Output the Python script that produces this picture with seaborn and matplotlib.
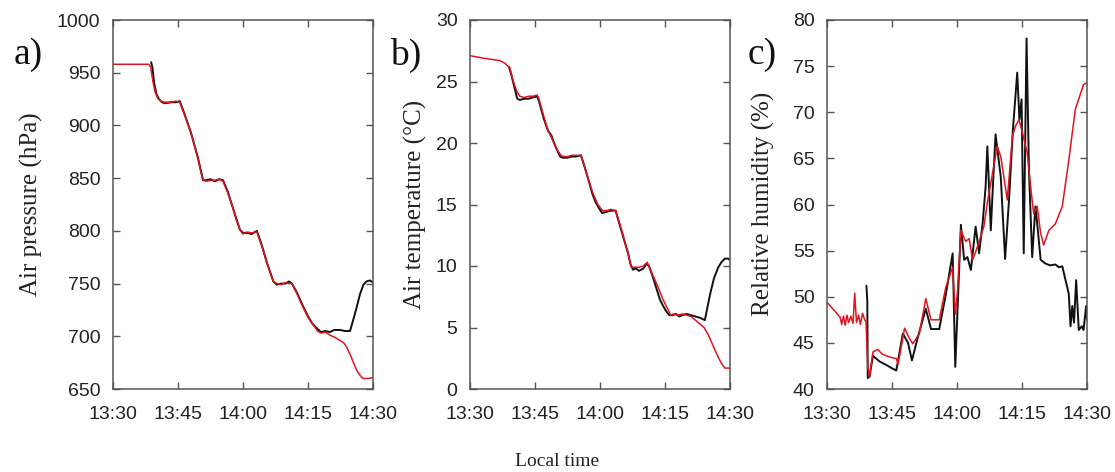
import numpy as np
import pandas as pd
import matplotlib
matplotlib.use("Agg")
import matplotlib.pyplot as plt
import seaborn as sns

# ---------------- data (minutes after 13:30) ----------------
time_labels = ["13:30", "13:45", "14:00", "14:15", "14:30"]
time_ticks = [0, 15, 30, 45, 60]

# a) air pressure (hPa)
p_red_t = [0, 8.3, 8.7, 9.2, 9.7, 10.3, 11.0, 12.0, 13.5, 14.5, 15.4, 16.5, 18.0, 19.5, 20.7, 21.5, 22.5,
           23.5, 24.5, 25.4, 26.5, 27.5, 28.5, 29.3, 30.0, 31.0, 32.0, 33.2, 34.3, 35.5, 37.0, 37.8, 38.8,
           39.8, 40.6, 41.3, 42.5, 43.8, 45.0, 46.0, 47.2, 48.0, 49.0, 50.1, 51.2, 52.4, 53.2, 53.9, 55.0,
           56.2, 57.0, 57.7, 59.0, 60.0]
p_red = [958, 958, 955, 942, 932, 926, 923, 922, 922, 923, 922, 910, 893, 870, 849, 847, 848,
         848, 849, 847, 836, 824, 810, 801, 797, 799, 798, 799, 786, 770, 752, 750, 749,
         751, 750, 750, 740, 728, 718, 712, 705, 703, 704, 701, 699, 696, 694, 690, 680,
         668, 663, 660, 660, 661]
p_blk_t = [8.8, 9.1, 9.5, 10.0, 10.6, 11.3, 12.0, 13.5, 14.5, 15.4, 16.5, 18.0, 19.5, 20.8, 21.5, 22.5,
           23.5, 24.5, 25.4, 26.5, 27.5, 28.5, 29.3, 30.0, 31.0, 32.0, 33.2, 34.3, 35.5, 37.0, 37.8, 38.8,
           39.8, 40.6, 41.3, 42.5, 43.8, 45.0, 46.0, 47.2, 48.0, 49.0, 50.1, 51.0, 52.4, 53.5, 54.7, 55.4,
           56.2, 57.0, 57.8, 58.5, 59.3, 60.0]
p_blk = [960, 955, 940, 930, 925, 922, 921, 922, 922, 923, 911, 893, 871, 848, 848, 849,
         847, 849, 848, 837, 824, 811, 801, 798, 798, 797, 800, 787, 770, 752, 749, 750,
         750, 752, 750, 741, 729, 719, 712, 707, 704, 705, 704, 706, 706, 705, 705, 715,
         727, 740, 749, 752, 753, 751]

# b) air temperature (degC)
t_red_t = [0, 3.0, 6.9, 8.0, 9.2, 10.0, 10.8, 11.5, 12.5, 13.5, 14.5, 15.5, 15.9, 17.0, 18.0, 19.0, 20.0,
           21.0, 21.5, 22.5, 23.5, 24.5, 25.6, 26.5, 27.5, 28.5, 29.5, 30.6, 31.5, 32.5, 33.6, 34.5, 35.5,
           36.5, 37.2, 38.0, 39.0, 40.0, 40.9, 41.4, 42.5, 43.5, 44.5, 45.5, 46.3, 47.0, 48.0, 49.0, 50.0,
           51.0, 52.0, 53.0, 54.0, 55.0, 56.0, 57.0, 58.0, 58.8, 60.0]
t_red = [27.1, 26.9, 26.7, 26.5, 26.1, 25.0, 24.2, 23.8, 23.7, 23.8, 23.8, 23.9, 23.6, 22.2, 21.0, 20.3, 19.5,
         19.0, 18.9, 18.9, 19.0, 19.0, 19.0, 18.0, 16.8, 15.8, 15.0, 14.5, 14.5, 14.6, 14.5, 13.5, 12.3,
         11.0, 9.9, 9.9, 9.9, 10.0, 10.3, 9.9, 9.0, 8.2, 7.3, 6.6, 6.0, 6.1, 6.0, 6.1, 6.0,
         5.9, 5.6, 5.3, 5.0, 4.4, 3.6, 2.8, 2.1, 1.7, 1.7]
t_blk_t = [9.0, 9.5, 10.2, 10.9, 11.5, 12.5, 13.5, 14.5, 15.5, 16.0, 17.0, 18.0, 18.8, 19.3, 20.0, 20.8,
           21.5, 22.5, 23.5, 24.5, 25.6, 26.5, 27.5, 28.3, 29.0, 29.6, 30.5, 31.5, 32.5, 33.6, 34.5, 35.5,
           36.5, 37.0, 37.6, 38.3, 39.0, 40.0, 40.8, 41.3, 42.3, 43.0, 43.8, 44.5, 45.3, 46.0, 46.8, 47.5,
           48.3, 49.0, 50.0, 51.0, 52.0, 53.0, 54.2, 55.4, 56.3, 57.3, 58.0, 58.8, 59.5, 60.0]
t_blk = [26.2, 25.6, 24.6, 23.6, 23.5, 23.6, 23.6, 23.7, 23.8, 23.3, 22.0, 21.0, 20.6, 20.1, 19.5, 18.9,
         18.8, 18.8, 18.9, 18.9, 19.0, 18.0, 16.8, 15.8, 15.2, 14.8, 14.3, 14.4, 14.5, 14.5, 13.4, 12.2,
         11.0, 10.2, 9.7, 9.8, 9.6, 9.8, 10.2, 10.0, 9.0, 8.2, 7.3, 6.8, 6.3, 6.0, 6.0, 6.1,
         5.9, 6.0, 6.1, 6.0, 5.9, 5.8, 5.6, 7.7, 9.0, 9.9, 10.3, 10.6, 10.6, 10.5]

# c) relative humidity (%)
h_red_t = [0, 1.5, 3.0, 3.4, 3.8, 4.2, 4.6, 5.0, 5.5, 6.0, 6.4, 6.8, 7.3, 7.7, 8.2, 8.7, 9.0, 9.4, 9.8,
           10.6, 11.7, 12.7, 13.7, 15.0, 16.0, 16.4, 17.9, 19.0, 19.8, 21.3, 22.8, 24.0, 25.9, 27.4, 29.0,
           29.6, 30.1, 30.9, 32.0, 32.8, 33.6, 34.7, 36.2, 37.0, 38.2, 39.3, 40.1, 40.9, 41.6, 42.8, 43.5,
           44.3, 45.1, 46.2, 47.0, 47.7, 48.5, 49.3, 50.0, 51.2, 52.7, 54.3, 55.8, 57.3, 59.2, 60.0]
h_red = [49.4, 48.6, 47.8, 47.0, 47.9, 46.9, 48.0, 47.2, 47.9, 47.1, 50.4, 47.2, 48.0, 47.0, 48.2, 47.5, 47.3,
         42.4, 41.3, 44.0, 44.3, 43.8, 43.6, 43.4, 43.3, 42.7, 46.6, 45.5, 44.9, 46.0, 49.8, 47.5, 47.5,
         51.0, 53.2, 48.1, 50.5, 57.2, 56.0, 56.3, 54.0, 55.4, 57.6, 60.2, 63.4, 66.3, 65.2, 62.7, 60.5,
         67.4, 68.5, 69.2, 67.8, 65.6, 61.9, 59.0, 59.8, 56.9, 55.6, 57.2, 57.9, 59.8, 64.8, 70.3, 73.0, 73.2]
h_blk_t = [9.1, 9.3, 9.4, 9.8, 10.6, 12.1, 13.7, 14.8, 16.0, 17.5, 18.7, 19.6, 20.9, 22.8, 24.0, 25.9,
           27.4, 29.0, 29.6, 30.9, 31.65, 32.4, 33.2, 34.3, 35.1, 35.9, 36.6, 37.0, 37.8, 38.2, 38.9, 40.1,
           41.1, 42.0, 42.9, 43.9, 44.4, 44.9, 45.4, 46.05, 46.6, 47.35, 48.1, 48.7, 49.3, 50.4, 51.5, 52.7,
           53.5, 54.3, 54.6, 55.8, 56.2, 56.6, 57.0, 57.5, 58.1, 58.8, 59.2, 59.8, 60.0]
h_blk = [51.2, 49.5, 41.2, 41.3, 43.6, 43.0, 42.6, 42.3, 42.0, 46.0, 45.0, 43.1, 45.5, 48.7, 46.5, 46.5,
         50.2, 54.7, 42.4, 57.8, 54.0, 54.3, 52.9, 57.6, 54.7, 57.9, 61.9, 66.3, 57.2, 61.2, 67.6, 63.0,
         54.1, 60.5, 68.1, 74.3, 69.2, 71.4, 54.7, 78.0, 63.8, 54.3, 59.8, 57.0, 54.0, 53.6, 53.4, 53.5,
         53.2, 53.3, 52.7, 50.3, 46.8, 49.0, 47.2, 51.8, 46.4, 46.8, 46.4, 49.0, 47.5]

panels = [
    dict(letter="a)", ylabel="Air pressure (hPa)", ylim=(650, 1000), yticks=list(range(650, 1001, 50)),
         red=(p_red_t, p_red), blk=(p_blk_t, p_blk)),
    dict(letter="b)", ylabel="Air temperature (\u00b0C)", ylim=(0, 30), yticks=list(range(0, 31, 5)),
         red=(t_red_t, t_red), blk=(t_blk_t, t_blk)),
    dict(letter="c)", ylabel="Relative humidity (%)", ylim=(40, 80), yticks=list(range(40, 81, 5)),
         red=(h_red_t, h_red), blk=(h_blk_t, h_blk)),
]

# ---------------- plotting ----------------
sns.set_theme(style="ticks")
plt.rcParams["font.family"] = ["Liberation Sans", "DejaVu Sans"]

fig = plt.figure(figsize=(11.15, 4.72), dpi=100)
W, H = 1115, 472
lefts = [113, 470, 827]
ax_w, top_px, bot_px = 260, 20, 389
letter_x = [28, 406, 762]
ylabel_x = [31, 415, 763]

spine_col = "#555555"
for i, pnl in enumerate(panels):
    ax = fig.add_axes([lefts[i] / W, 1 - bot_px / H, ax_w / W, (bot_px - top_px) / H])
    dfb = pd.DataFrame({"t": pnl["blk"][0], "v": pnl["blk"][1]})
    dfr = pd.DataFrame({"t": pnl["red"][0], "v": pnl["red"][1]})
    sns.lineplot(data=dfb, x="t", y="v", ax=ax, color="#111111", lw=1.4, estimator=None, sort=False)
    sns.lineplot(data=dfr, x="t", y="v", ax=ax, color="#e0141e", lw=1.1, estimator=None, sort=False)
    ax.set_xlim(0, 60)
    ax.set_ylim(*pnl["ylim"])
    ax.set_xticks(time_ticks)
    ax.set_xticklabels(time_labels)
    ax.set_yticks(pnl["yticks"])
    ax.set_xlabel("")
    ax.set_ylabel("")
    ax.tick_params(direction="in", top=True, right=True, length=5, width=1.0, color=spine_col,
                   labelsize=14, labelcolor="#222222")
    ax.tick_params(axis="x", pad=12)
    ax.tick_params(axis="y", pad=9)
    for s in ax.spines.values():
        s.set_color(spine_col)
        s.set_linewidth(1.1)
        s.set_visible(True)
    fig.text(ylabel_x[i] / W, 1 - 204 / H, pnl["ylabel"], rotation=90, ha="center", va="center",
             family="Liberation Serif", fontsize=18, color="#222222")
    fig.text(letter_x[i] / W, 1 - 55 / H, pnl["letter"], ha="center", va="center",
             family="Liberation Serif", fontsize=27, color="#111111")

fig.text(557 / W, 1 - 462 / H, "Local time", ha="center", va="center",
         family="Liberation Serif", fontsize=14, color="#222222")

fig.savefig("out.png", dpi=100, facecolor="white")
